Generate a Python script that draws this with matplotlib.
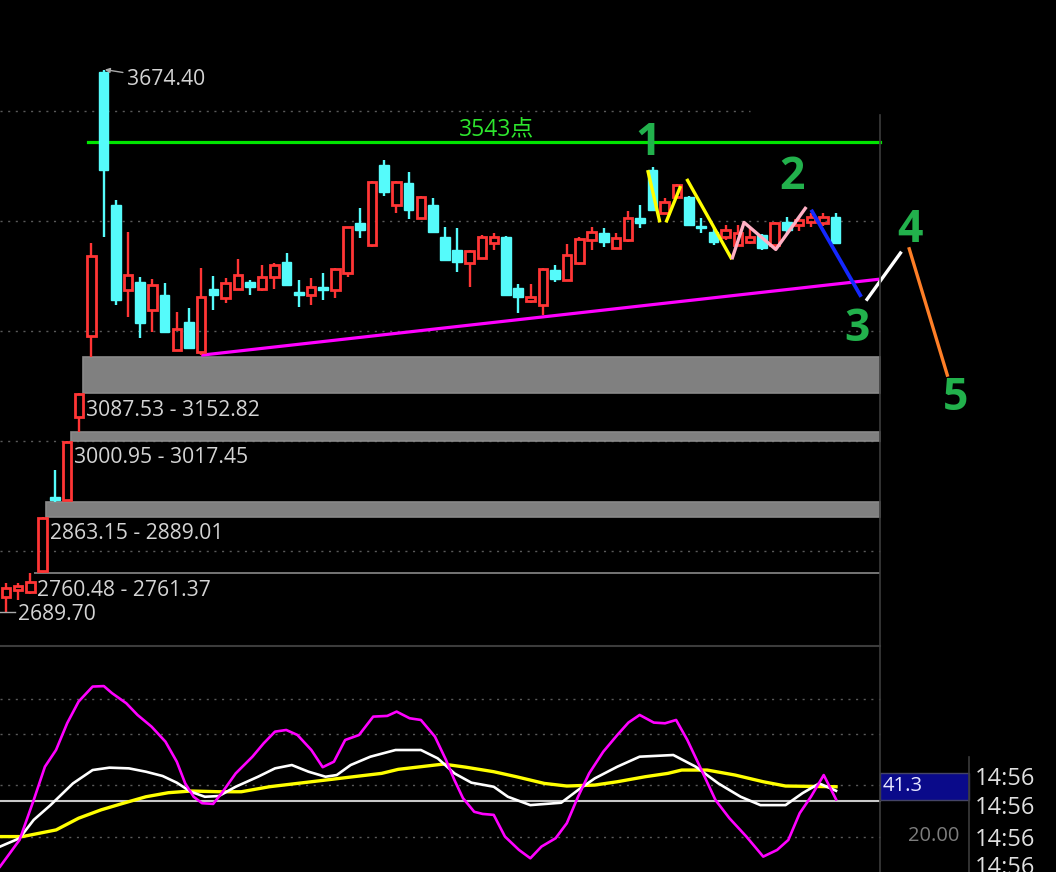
import matplotlib
matplotlib.use("Agg")
import matplotlib.pyplot as plt
from matplotlib.patches import Rectangle

plt.rcParams['font.family'] = ['Open Sans', 'Noto Sans CJK SC', 'DejaVu Sans']

# ---------------- data ----------------
opens = [2717.2, 2729.9, 2726.8, 2765.0, 2898.7, 2893.0, 3043.8, 3190.9, 3670.0, 3428.6,
         3274.4, 3288.9, 3238.1, 3265.3, 3165.5, 3216.8, 3162.4, 3276.2, 3259.9, 3276.2,
         3289.4, 3276.2, 3298.5, 3325.7, 3270.7, 3265.3, 3280.4, 3274.4, 3305.8, 3396.0,
         3356.1, 3501.3, 3428.6, 3469.1, 3405.0, 3428.6, 3371.1, 3347.0, 3323.4, 3332.4,
         3359.7, 3370.6, 3278.0, 3254.9, 3247.1, 3310.7, 3292.5, 3323.4, 3365.1, 3378.4,
         3350.6, 3365.1, 3405.0, 3492.2, 3413.6, 3443.7, 3443.7, 3390.5, 3380.2, 3371.1,
         3356.1, 3362.0, 3374.2, 3356.1, 3398.3, 3392.4, 3398.3, 3395.4, 3406.3]
highs = [2742.6, 2742.6, 2760.48, 2863.15, 2947.7, 3000.95, 3087.53, 3359.7, 3674.4, 3437.7,
         3380.2, 3298.0, 3294.3, 3287.1, 3235.0, 3241.7, 3314.3, 3300.3, 3296.1, 3330.6,
         3292.5, 3319.8, 3323.4, 3341.5, 3292.5, 3296.1, 3305.2, 3314.3, 3389.6, 3423.2,
         3472.2, 3510.3, 3472.2, 3489.1, 3445.0, 3441.4, 3389.3, 3386.9, 3347.0, 3374.2,
         3378.4, 3372.4, 3285.3, 3285.3, 3313.4, 3319.8, 3357.9, 3370.6, 3389.3, 3386.9,
         3378.4, 3418.3, 3428.6, 3497.6, 3441.4, 3466.8, 3445.0, 3404.5, 3386.9, 3392.4,
         3392.4, 3389.3, 3376.0, 3396.9, 3406.3, 3407.4, 3414.1, 3413.6, 3413.6]
lows = [2689.7, 2711.7, 2722.6, 2761.37, 2889.01, 2891.0, 3017.45, 3152.82, 3370.6, 3247.1,
        3225.9, 3187.3, 3198.7, 3198.2, 3164.6, 3168.2, 3156.0, 3238.1, 3250.8, 3274.4,
        3265.3, 3273.1, 3276.2, 3282.6, 3244.1, 3247.1, 3256.2, 3259.9, 3298.5, 3368.8,
        3352.4, 3445.0, 3414.1, 3403.2, 3403.2, 3377.8, 3327.9, 3307.6, 3279.8, 3331.5,
        3347.0, 3264.4, 3232.6, 3251.3, 3229.0, 3289.4, 3291.6, 3319.8, 3347.0, 3352.4,
        3349.7, 3362.0, 3386.9, 3418.7, 3412.7, 3442.3, 3390.5, 3377.3, 3356.1, 3365.1,
        3355.2, 3357.9, 3347.0, 3355.2, 3378.4, 3382.0, 3389.3, 3390.5, 3358.5]
closes = [2733.5, 2737.7, 2744.9, 2860.5, 2893.2, 2998.5, 3085.6, 3336.1, 3492.2, 3256.2,
          3301.6, 3215.0, 3283.5, 3198.7, 3203.6, 3169.1, 3261.7, 3265.3, 3287.1, 3301.6,
          3280.4, 3298.0, 3319.8, 3283.5, 3265.3, 3280.4, 3274.4, 3312.5, 3388.7, 3383.3,
          3470.9, 3452.8, 3470.9, 3419.6, 3443.2, 3380.2, 3328.8, 3325.7, 3345.7, 3370.6,
          3371.1, 3265.3, 3262.2, 3262.2, 3312.5, 3294.3, 3337.9, 3366.9, 3380.2, 3362.0,
          3368.8, 3405.0, 3396.0, 3419.6, 3434.6, 3465.0, 3392.4, 3386.4, 3362.0, 3383.3,
          3377.8, 3371.1, 3350.1, 3395.4, 3383.3, 3401.4, 3406.3, 3406.3, 3358.9]

# price gaps: (bar index where gap opened, lower, upper)
gap_bars = [7, 6, 4, 3]
gap_low = [3087.53, 3000.95, 2863.15, 2760.48]
gap_high = [3152.82, 3017.45, 2889.01, 2761.37]
gap_labels = ["3087.53 - 3152.82", "3000.95 - 3017.45", "2863.15 - 2889.01", "2760.48 - 2761.37"]

peak_value = 3674.40
peak_bar = 8
low_value = 2689.70
resistance = 3543
resistance_label = "3543点"
grid_levels = [3600, 3400, 3200, 3000, 2800]

trend_x = [16, 71.6]
trend_y = [3156, 3294]

# wave sketch lines (bar index, price)
yellow_a_x = [52.6, 53.6];  yellow_a_y = [3492, 3397]
yellow_b_x = [54.1, 55.3];  yellow_b_y = [3397, 3463]
yellow_c_x = [55.8, 59.5];  yellow_c_y = [3476, 3330]
pink_x = [59.5, 60.5, 63.1, 65.6];  pink_y = [3330, 3397, 3348, 3425]
blue_x = [66.0, 70.1];  blue_y = [3420, 3262]
white_x = [70.5, 73.4];  white_y = [3255, 3344]
orange_x = [74.0, 77.2];  orange_y = [3352, 3117]
wave_nums = ["1", "2", "3", "4", "5"]
wave_x = [52.6, 64.4, 69.75, 74.1, 77.8]
wave_y = [3541, 3478, 3202, 3383, 3078]

# oscillator lines (bar index, value)
j_t = [-0.49, 1.11, 2.27, 3.19, 4.10, 5.02, 5.95, 7.10, 8.02, 8.70, 9.86, 10.78, 11.93, 13.07,
       14.0, 14.69, 15.38, 16.07, 16.98, 17.68, 18.83, 20.20, 21.12, 22.05, 22.97, 23.89, 25.03,
       25.96, 26.88, 27.80, 28.94, 30.10, 31.25, 32.02, 33.09, 34.01, 35.16, 36.07, 36.76, 37.46,
       38.38, 39.07, 39.98, 40.90, 42.05, 42.98, 43.89, 45.05, 45.97, 46.89, 47.80, 48.96, 50.11,
       51.02, 51.94, 53.10, 54.02, 54.93, 55.85, 57.01, 58.16, 59.30, 60.69, 62.07, 63.21, 64.13,
       65.06, 65.98, 67.03, 68.04]
j_v = [7.7, 18.9, 35.6, 49.6, 56.6, 67.9, 76.9, 83.2, 83.4, 80.4, 76.2, 71.3, 66.4, 60.1,
       51.7, 42.6, 37.0, 34.3, 34.0, 38.5, 46.8, 53.8, 59.4, 64.3, 65.0, 62.9, 56.6,
       49.4, 51.7, 60.8, 62.9, 70.6, 70.9, 72.7, 69.9, 69.2, 62.2, 52.4, 44.0, 36.4,
       30.7, 29.8, 29.4, 20.3, 14.7, 11.2, 16.1, 19.6, 25.9, 37.0, 46.8, 55.9, 62.9,
       68.1, 71.3, 68.1, 67.8, 69.2, 60.8, 48.2, 35.6, 28.0, 20.3, 11.9, 14.7, 18.9,
       30.1, 37.0, 46.1, 35.9]
k_t = [-0.49, 1.11, 2.27, 3.65, 5.49, 7.10, 8.48, 10.08, 11.47, 12.84, 14.0, 15.15, 16.30,
       17.45, 18.83, 20.66, 22.05, 23.43, 24.80, 26.19, 27.11, 28.25, 29.87, 31.93, 34.01,
       35.39, 36.76, 38.15, 39.98, 41.14, 42.98, 45.51, 46.89, 48.26, 50.11, 51.94, 54.70,
       56.54, 58.39, 60.22, 61.84, 63.90, 65.29, 66.66, 68.04]
k_v = [16.1, 19.6, 27.3, 33.5, 42.6, 48.2, 49.2, 48.9, 47.5, 45.7, 42.9, 39.1, 37.0,
       37.3, 41.2, 45.4, 48.9, 50.3, 47.5, 45.4, 46.1, 50.3, 53.8, 56.6, 56.6,
       53.1, 46.8, 42.9, 41.2, 37.0, 33.5, 34.5, 39.8, 44.7, 49.6, 53.8, 54.5,
       49.6, 42.6, 37.0, 33.5, 33.5, 38.5, 42.6, 39.5]
d_t = [-0.49, 1.34, 2.73, 4.11, 5.95, 7.79, 9.63, 11.47, 13.31, 15.15, 17.45, 19.29, 21.59,
       23.89, 26.19, 28.48, 30.79, 32.16, 34.01, 35.84, 37.69, 39.98, 41.83, 44.12, 45.97,
       48.26, 50.11, 52.40, 54.25, 55.39, 57.47, 59.76, 62.07, 63.90, 68.04]
d_v = [20.3, 20.3, 21.7, 23.1, 28.0, 31.5, 34.3, 37.0, 38.7, 39.4, 39.1, 39.1, 41.2,
       42.6, 44.0, 45.4, 46.8, 48.5, 49.6, 50.7, 49.4, 47.5, 45.4, 42.6, 41.5,
       41.9, 43.3, 45.4, 46.8, 48.2, 48.2, 46.1, 43.3, 41.5, 41.2]
osc_dotted = [77.9, 63.2, 41.9, 20.0]
osc_solid = 35.3
osc_last = "41.3"
osc_level_label = "20.00"
time_labels = ["14:56", "14:56", "14:56", "14:56"]

# ---------------- figure ----------------
W, H = 1056, 872
fig = plt.figure(figsize=(W / 100, H / 100), dpi=100, facecolor='black')

XL = (-0.492, 86.07)
X_END = 71.64
ax = fig.add_axes([0, 227 / H, 1, 645 / H])
ax.set_xlim(*XL)
ax.set_ylim(2630.0, 3800.73)
ax.axis('off')

osc = fig.add_axes([0, 0, 1, 227 / H])
osc.set_xlim(*XL)
osc.set_ylim(5.45, 100.63)
osc.axis('off')

RED = '#ff3535'
CYAN = '#55fbfb'
GRAY_TXT = '#d4d4d4'
LBL = 15.2

# grid
for lv in grid_levels:
    xe = 61.0 if lv == grid_levels[0] else X_END
    ax.plot([XL[0], xe], [lv, lv], color='#5a5a5a', lw=1.0, ls=(0, (1.5, 4)), zorder=1)

# gap bands
for b, lo, hi, lab in zip(gap_bars, gap_low, gap_high, gap_labels):
    ax.add_patch(Rectangle((b - 0.7, lo), X_END - (b - 0.7), hi - lo,
                           facecolor='#808080', edgecolor='#8a8a8a', lw=1.2, zorder=2))
    ax.annotate(lab, xy=(b - 0.42, lo), xytext=(0, -12.3), textcoords='offset points',
                ha='left', va='center', color=GRAY_TXT, fontsize=LBL, zorder=6)

# resistance line
ax.plot([6.7, X_END], [resistance, resistance], color='#00e600', lw=2.3, zorder=3)
ax.text(40.25, resistance + 22, resistance_label, color='#2ee62e', fontsize=16.5,
        ha='center', va='center', zorder=6)

# trend line
ax.plot(trend_x, trend_y, color='#ff00ff', lw=2.3, zorder=4, solid_capstyle='butt')

# candles
w = 0.70
for i, (o, h, l, c) in enumerate(zip(opens, highs, lows, closes)):
    if c >= o:
        ax.add_patch(Rectangle((i - w / 2, o), w, c - o, fill=False, edgecolor=RED, lw=2.0, zorder=5))
        ax.plot([i, i], [c, h], color=RED, lw=1.7, zorder=5, solid_capstyle='butt')
        ax.plot([i, i], [l, o], color=RED, lw=1.7, zorder=5, solid_capstyle='butt')
    else:
        ax.add_patch(Rectangle((i - w / 2 - 0.05, c), w + 0.1, o - c, facecolor=CYAN,
                               edgecolor=CYAN, lw=1.0, zorder=5))
        ax.plot([i, i], [l, h], color=CYAN, lw=1.7, zorder=5, solid_capstyle='butt')

# peak & low labels
ax.annotate(f"{peak_value:.2f}", xy=(peak_bar + 0.1, peak_value), xytext=(16, -7),
            textcoords='offset points', ha='left', va='center', color=GRAY_TXT, fontsize=LBL,
            arrowprops=dict(arrowstyle='-|>', color='#aaaaaa', lw=1.0, mutation_scale=7,
                            shrinkA=1, shrinkB=0), zorder=7)
ax.annotate(f"{low_value:.2f}", xy=(0.98, low_value), xytext=(0, -1.5),
            textcoords='offset points', ha='left', va='center', color=GRAY_TXT, fontsize=LBL,
            zorder=7)
ax.plot([XL[0], 0.75], [low_value, low_value], color='#aaaaaa', lw=1.0, zorder=6)

# wave sketch
kw = dict(lw=2.4, solid_capstyle='butt', zorder=8, clip_on=False)
ax.plot(yellow_a_x, yellow_a_y, color='#ffff00', **kw)
ax.plot(yellow_b_x, yellow_b_y, color='#ffff00', **kw)
ax.plot(yellow_c_x, yellow_c_y, color='#ffff00', **kw)
ax.plot(pink_x, pink_y, color='#ffb0c4', **kw)
ax.plot(blue_x, blue_y, color='#1428ff', lw=2.7, solid_capstyle='butt', zorder=8)
ax.plot(white_x, white_y, color='#ffffff', **kw)
ax.plot(orange_x, orange_y, color='#ff7f27', **kw)
for s, x, y in zip(wave_nums, wave_x, wave_y):
    ax.text(x, y, s, color='#22b14c', fontsize=32, fontweight='bold', ha='center',
            va='center', zorder=9, clip_on=False)

# ---------------- oscillator ----------------
for lv in osc_dotted:
    osc.plot([XL[0], X_END], [lv, lv], color='#5a5a5a', lw=1.0, ls=(0, (1.5, 4)), zorder=1)
osc.plot([XL[0], X_END], [osc_solid, osc_solid], color='#c8c8c8', lw=1.5, zorder=2)
osc.plot(d_t, d_v, color='#ffff00', lw=2.4, zorder=3)
osc.plot(k_t, k_v, color='#ffffff', lw=1.9, zorder=4)
osc.plot(j_t, j_v, color='#ff00ff', lw=1.9, zorder=5)


def fx(px):
    return px / W


def fy(py):
    return 1 - py / H


# separators
fig.add_artist(plt.Line2D([0, fx(880)], [fy(646), fy(646)], color='#3c3c3c', lw=1.5))
fig.add_artist(plt.Line2D([fx(880), fx(880)], [fy(115), 0], color='#3c3c3c', lw=1.2))
fig.add_artist(plt.Line2D([fx(969), fx(969)], [fy(757), 0], color='#3c3c3c', lw=1.2))

# value box
fig.add_artist(Rectangle((fx(880), fy(800)), fx(969) - fx(880), fy(773) - fy(800),
                         transform=fig.transFigure, facecolor='#0a0a8a', edgecolor='#444466', lw=1))
fig.text(fx(883), fy(786), osc_last, color='#e8e8ff', fontsize=14.5, ha='left', va='center')
fig.text(fx(959), fy(836), osc_level_label, color='#7d7d7d', fontsize=14.5, ha='right', va='center')
for t, py in zip(time_labels, [779, 808, 840, 868]):
    fig.text(fx(975), fy(py), t, color='#e0e0e0', fontsize=17, ha='left', va='center')

fig.savefig('out.png', dpi=100, facecolor='black')
